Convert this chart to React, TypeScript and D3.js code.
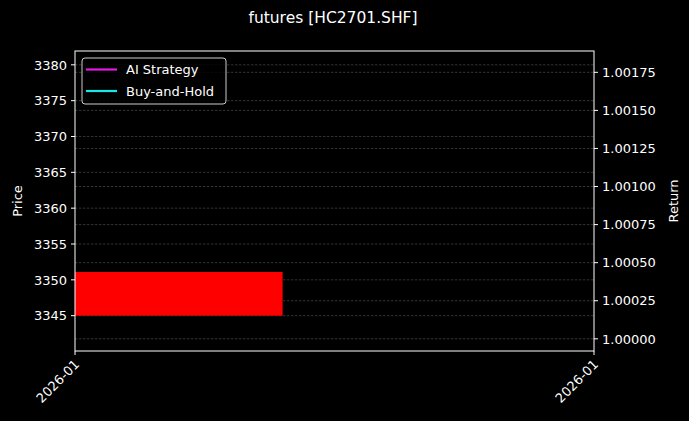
import React from 'react';
import * as d3 from 'd3';

// Chart data
const TITLE = 'futures [HC2701.SHF]';
const PRICE_TICKS = [3345, 3350, 3355, 3360, 3365, 3370, 3375, 3380];
const RETURN_TICKS = [1.0, 1.00025, 1.0005, 1.00075, 1.001, 1.00125, 1.0015, 1.00175];
const PRICE_DOMAIN: [number, number] = [3340.07, 3381.93];
const RETURN_DOMAIN: [number, number] = [0.99992, 1.00189];
const X_LABELS = ['2026-01', '2026-01'];
// single candle: open, close (x span as fraction of the axis)
const CANDLE_OPEN = [3351.1];
const CANDLE_CLOSE = [3345.0];
const CANDLE_X = [[0, 0.4]];
const LEGEND = [
  { name: 'AI Strategy', color: '#e619e6' },
  { name: 'Buy-and-Hold', color: '#19e6e6' },
];

const W = 689;
const H = 421;
const margin = { top: 51, right: 95, bottom: 70, left: 75 };
const FONT = 'DejaVu Sans, sans-serif';
const FS = 13;

const App: React.FC = () => {
  const iw = W - margin.left - margin.right;
  const ih = H - margin.top - margin.bottom;

  const y = d3.scaleLinear().domain(PRICE_DOMAIN).range([ih, 0]);
  const yr = d3.scaleLinear().domain(RETURN_DOMAIN).range([ih, 0]);
  const x = d3.scaleLinear().domain([0, 1]).range([0, iw]);

  return (
    <svg width={W} height={H} style={{ display: 'block', background: '#000', position: 'absolute', left: 0, top: 0 }}
      fontFamily={FONT}>
      <rect width={W} height={H} fill="#000" />
      <text x={333} y={23} fill="#fff" fontSize={15.5} textAnchor="middle">{TITLE}</text>
      <g transform={`translate(${margin.left},${margin.top})`}>
        {/* grid lines */}
        {PRICE_TICKS.map(t => (
          <line key={'gp' + t} x1={0} x2={iw} y1={y(t)} y2={y(t)} stroke="#555" strokeWidth={0.6} strokeDasharray="2.5,1.5" />
        ))}
        {RETURN_TICKS.map(t => (
          <line key={'gr' + t} x1={0} x2={iw} y1={yr(t)} y2={yr(t)} stroke="#555" strokeWidth={0.6} strokeDasharray="2.5,1.5" />
        ))}
        {/* candle */}
        {CANDLE_OPEN.map((o, i) => {
          const c = CANDLE_CLOSE[i];
          return (
            <rect key={i} x={x(CANDLE_X[i][0])} width={x(CANDLE_X[i][1]) - x(CANDLE_X[i][0])}
              y={y(Math.max(o, c))} height={Math.abs(y(o) - y(c))} fill="#ff0000" />
          );
        })}
        {/* frame */}
        <rect x={0} y={0} width={iw} height={ih} fill="none" stroke="#fff" strokeWidth={1} />
        {/* left axis */}
        {PRICE_TICKS.map(t => (
          <g key={'lp' + t} transform={`translate(0,${y(t)})`}>
            <line x1={-4} x2={0} stroke="#fff" />
            <text x={-8} dy="0.36em" fill="#fff" fontSize={FS} textAnchor="end">{t}</text>
          </g>
        ))}
        {/* right axis */}
        {RETURN_TICKS.map(t => (
          <g key={'lr' + t} transform={`translate(${iw},${yr(t)})`}>
            <line x1={0} x2={4} stroke="#fff" />
            <text x={8} dy="0.36em" fill="#fff" fontSize={FS}>{t.toFixed(5)}</text>
          </g>
        ))}
        {/* x axis */}
        {X_LABELS.map((l, i) => (
          <g key={'x' + i} transform={`translate(${x(i)},${ih})`}>
            <line y1={0} y2={4} stroke="#fff" />
            <text transform="translate(2,11) rotate(-45)" fill="#fff" fontSize={FS} textAnchor="end" dy="0.35em">{l}</text>
          </g>
        ))}
        <text transform={`translate(${-53},${ih / 2}) rotate(-90)`} fill="#fff" fontSize={FS} textAnchor="middle">Price</text>
        <text transform={`translate(${iw + 84},${ih / 2}) rotate(-90)`} fill="#fff" fontSize={FS} textAnchor="middle">Return</text>
        {/* legend */}
        <g transform="translate(7,7)">
          <rect x={0} y={0} width={144} height={46} rx={3} fill="#000" fillOpacity={0.8} stroke="#ccc" strokeWidth={1} />
          {LEGEND.map((d, i) => (
            <g key={d.name} transform={`translate(0,${11.5 + i * 21.5})`}>
              <line x1={4} x2={35} stroke={d.color} strokeWidth={2.2} />
              <text x={44} dy="0.36em" fill="#fff" fontSize={FS}>{d.name}</text>
            </g>
          ))}
        </g>
      </g>
    </svg>
  );
};

export default App;
